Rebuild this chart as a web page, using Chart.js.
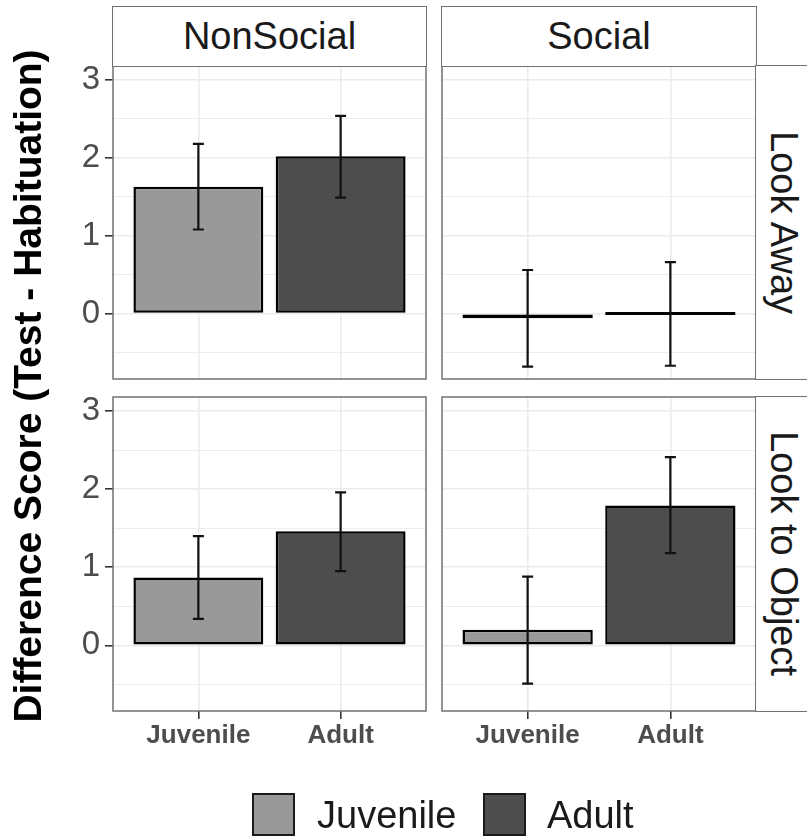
<!DOCTYPE html>
<html>
<head>
<meta charset="utf-8">
<script src="https://cdn.jsdelivr.net/npm/chart.js@4.4.0/dist/chart.umd.min.js"></script>
<style>
html,body{margin:0;padding:0;background:#fff;}
#wrap{position:relative;width:807px;height:837px;overflow:hidden;font-family:"Liberation Sans",Arial,Helvetica,sans-serif;}
#wrap canvas{position:absolute;left:0;top:0;}
.strip{position:absolute;box-sizing:border-box;border:1.5px solid #707070;background:#fff;}
.stripTop{display:flex;align-items:center;justify-content:center;color:#1a1a1a;font-size:38px;}
.vlab{position:absolute;writing-mode:vertical-rl;text-align:center;line-height:40px;font-size:38px;color:#1a1a1a;width:40px;}
.ytitle{position:absolute;left:-372px;top:366px;width:800px;height:40px;line-height:40px;text-align:center;font-weight:bold;font-size:39px;color:#000;transform:rotate(-90deg);white-space:nowrap;}
.key{position:absolute;top:793px;width:43px;height:43px;box-sizing:border-box;border:2px solid #1a1a1a;}
.keytxt{position:absolute;top:796px;line-height:38px;font-size:38px;color:#1a1a1a;white-space:nowrap;}
</style>
</head>
<body>
<div id="wrap">
  <canvas id="p00" width="807" height="837"></canvas>
  <canvas id="p01" width="807" height="837"></canvas>
  <canvas id="p10" width="807" height="837"></canvas>
  <canvas id="p11" width="807" height="837"></canvas>
  <div id="strips"></div>
  <div class="ytitle" id="ytitle"></div>
  <div id="legend"></div>
</div>
<script>
// ---------------- data ----------------
const facetColumns = ['NonSocial', 'Social'];
const facetRows = ['Look Away', 'Look to Object'];
const ageGroups = ['Juvenile', 'Adult'];
const ageColors = ['#999999', '#4d4d4d'];
const yAxisTitle = 'Difference Score (Test - Habituation)';

const nonSocialLookAwayMean = [1.63, 2.02];
const nonSocialLookAwayLow  = [1.08, 1.49];
const nonSocialLookAwayHigh = [2.18, 2.54];

const socialLookAwayMean = [-0.06, 0.00];
const socialLookAwayLow  = [-0.68, -0.67];
const socialLookAwayHigh = [0.56, 0.66];

const nonSocialLookObjectMean = [0.87, 1.46];
const nonSocialLookObjectLow  = [0.34, 0.95];
const nonSocialLookObjectHigh = [1.40, 1.96];

const socialLookObjectMean = [0.20, 1.79];
const socialLookObjectLow  = [-0.49, 1.18];
const socialLookObjectHigh = [0.88, 2.41];

const yMin = -0.84, yMax = 3.18;

// ---------------- layout ----------------
const W = 807, H = 837;
const colLeft = [113, 442], colRight = [426, 756];
const rowTop = [66, 397], rowBottom = [379, 711];
const FONT = '"Liberation Sans", Arial, Helvetica, sans-serif';
const isInt = v => Math.abs(v - Math.round(v)) < 1e-9;

const errorBarPlugin = {
  id: 'errorBars',
  afterDatasetsDraw(chart) {
    const ctx = chart.ctx, xs = chart.scales.x, ys = chart.scales.y;
    const ds = chart.data.datasets[0];
    ctx.save();
    ctx.strokeStyle = '#111111';
    ctx.lineWidth = 2.2;
    ds.errLow.forEach((lo, i) => {
      const x = xs.getPixelForValue(i + 1);
      const y1 = ys.getPixelForValue(lo);
      const y2 = ys.getPixelForValue(ds.errHigh[i]);
      ctx.beginPath();
      ctx.moveTo(x, y1); ctx.lineTo(x, y2);
      ctx.moveTo(x - 5.5, y1); ctx.lineTo(x + 5.5, y1);
      ctx.moveTo(x - 5.5, y2); ctx.lineTo(x + 5.5, y2);
      ctx.stroke();
    });
    ctx.restore();
  }
};

const borderPlugin = {
  id: 'panelBorder',
  afterDraw(chart) {
    const a = chart.chartArea, ctx = chart.ctx;
    ctx.save();
    ctx.strokeStyle = '#707070';
    ctx.lineWidth = 1.5;
    ctx.strokeRect(a.left, a.top, a.right - a.left, a.bottom - a.top);
    ctx.restore();
  }
};

function makePanel(id, col, row, mean, low, high) {
  const isLeft = col === 0, isBottom = row === 1;
  const xAxisH = isBottom ? 40 : 0;
  const yAxisW = isLeft ? 113 : 0;
  const padding = {
    left: colLeft[col] - yAxisW,
    right: W - colRight[col],
    top: rowTop[row],
    bottom: H - rowBottom[row] - xAxisH
  };
  return new Chart(document.getElementById(id), {
    type: 'bar',
    data: {
      datasets: [{
        label: facetColumns[col] + ' / ' + facetRows[row],
        data: ageGroups.map((g, i) => ({ x: i + 1, y: mean[i] })),
        backgroundColor: ageColors,
        borderColor: '#000000',
        borderWidth: 2.5,
        borderSkipped: false,
        inflateAmount: 0,
        barPercentage: 0.913,
        categoryPercentage: 1.0,
        minBarLength: 3,
        errLow: low,
        errHigh: high
      }]
    },
    options: {
      responsive: false,
      animation: false,
      devicePixelRatio: 1,
      events: [],
      layout: { padding },
      plugins: { legend: { display: false }, tooltip: { enabled: false } },
      scales: {
        x: {
          type: 'linear', min: 0.4, max: 2.6, offset: false,
          ticks: {
            display: isBottom, stepSize: 1, includeBounds: false, autoSkip: false,
            maxRotation: 0, padding: 1, color: '#4d4d4d',
            font: { family: FONT, size: 26, weight: 'bold' },
            callback: v => ageGroups[Math.round(v) - 1] || ''
          },
          grid: {
            offset: false,
            color: '#ebebeb', lineWidth: 1.6, drawTicks: isBottom, tickLength: 8,
            tickColor: '#333333', tickWidth: 1.6
          },
          border: { display: false },
          afterFit: s => { s.height = xAxisH; }
        },
        y: {
          type: 'linear', min: yMin, max: yMax,
          ticks: {
            display: isLeft, stepSize: 0.5, includeBounds: false, autoSkip: false,
            padding: 5, color: '#4d4d4d',
            font: { family: FONT, size: 33 },
            callback: v => isInt(v) ? String(Math.round(v)) : ''
          },
          grid: {
            offset: false,
            color: '#ebebeb',
            lineWidth: c => (c.tick && isInt(c.tick.value)) ? 1.6 : 0.9,
            drawTicks: isLeft, tickLength: 8,
            tickColor: c => (c.tick && isInt(c.tick.value)) ? '#333333' : 'rgba(0,0,0,0)',
            tickWidth: 1.6
          },
          border: { display: false },
          afterFit: s => { s.width = yAxisW; }
        }
      }
    },
    plugins: [errorBarPlugin, borderPlugin]
  });
}

makePanel('p00', 0, 0, nonSocialLookAwayMean, nonSocialLookAwayLow, nonSocialLookAwayHigh);
makePanel('p01', 1, 0, socialLookAwayMean, socialLookAwayLow, socialLookAwayHigh);
makePanel('p10', 0, 1, nonSocialLookObjectMean, nonSocialLookObjectLow, nonSocialLookObjectHigh);
makePanel('p11', 1, 1, socialLookObjectMean, socialLookObjectLow, socialLookObjectHigh);

// ---------------- strips, title, legend ----------------
const strips = document.getElementById('strips');
facetColumns.forEach((name, c) => {
  const d = document.createElement('div');
  d.className = 'strip stripTop';
  d.style.left = (colLeft[c] - 1) + 'px';
  d.style.top = '6px';
  d.style.width = (colRight[c] - colLeft[c] + 2) + 'px';
  d.style.height = '61px';
  d.textContent = name;
  strips.appendChild(d);
});
facetRows.forEach((name, r) => {
  const d = document.createElement('div');
  d.className = 'strip';
  d.style.left = (colRight[1] - 1) + 'px';
  d.style.top = (rowTop[r] - 1) + 'px';
  d.style.width = '90px';
  d.style.height = (rowBottom[r] - rowTop[r] + 2) + 'px';
  strips.appendChild(d);
  const t = document.createElement('div');
  t.className = 'vlab';
  t.style.left = (colRight[1] + 8) + 'px';
  t.style.top = rowTop[r] + 'px';
  t.style.height = (rowBottom[r] - rowTop[r]) + 'px';
  t.textContent = name;
  strips.appendChild(t);
});
document.getElementById('ytitle').textContent = yAxisTitle;

const legend = document.getElementById('legend');
const keyLeft = [252, 483], txtLeft = [317, 547];
ageGroups.forEach((g, i) => {
  const k = document.createElement('div');
  k.className = 'key';
  k.style.left = keyLeft[i] + 'px';
  k.style.background = ageColors[i];
  legend.appendChild(k);
  const t = document.createElement('div');
  t.className = 'keytxt';
  t.style.left = txtLeft[i] + 'px';
  t.textContent = g;
  legend.appendChild(t);
});
</script>
</body>
</html>
